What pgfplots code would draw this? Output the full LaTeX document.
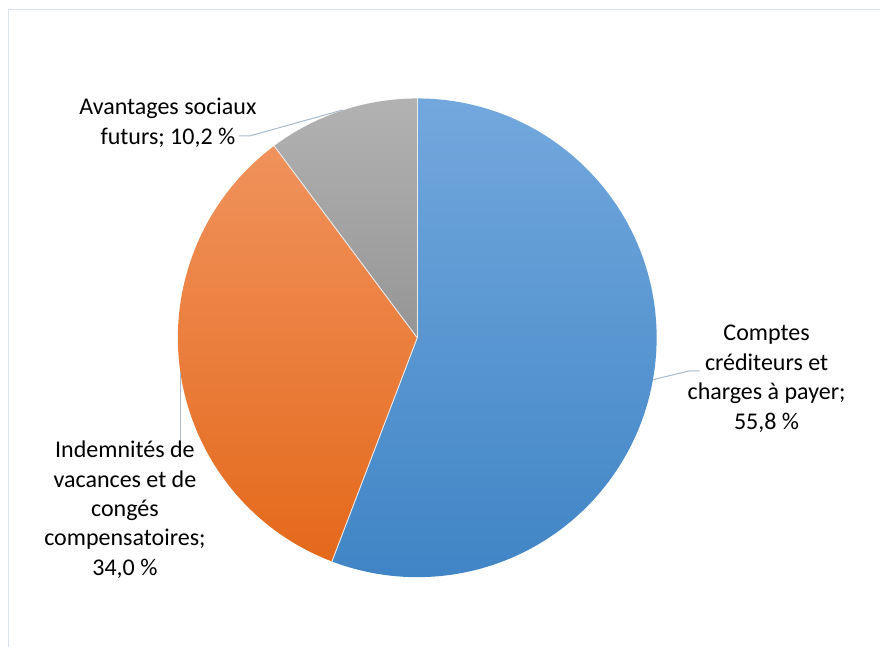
\documentclass[border=0pt]{standalone}
\usepackage{pgfplots}
\pgfplotsset{compat=1.18}
\usepackage{fontspec}
\setmainfont{Carlito}
\definecolor{blueT}{HTML}{72A8DD}
\definecolor{blueM}{HTML}{5B9BD5}
\definecolor{blueB}{HTML}{3F84C5}
\definecolor{orangeT}{HTML}{F0925C}
\definecolor{orangeM}{HTML}{F47E30}
\definecolor{orangeB}{HTML}{E4691B}
\definecolor{grayT}{HTML}{B2B2B2}
\definecolor{grayB}{HTML}{959595}
\definecolor{leader}{HTML}{A9B9CC}
\definecolor{frame}{HTML}{DCE2EA}
\begin{document}
\begin{tikzpicture}
\begin{axis}[
  width=880pt, height=647pt, scale only axis,
  xmin=0, xmax=880, ymin=0, ymax=647,
  hide axis, clip=false,
]
\path (axis cs:0,0) rectangle (axis cs:880,647);
% frame
\draw[frame, line width=1pt] (axis cs:9,0) -- (axis cs:9,637) -- (axis cs:880,637);
% pie values: 55.8, 34.0, 10.2 (clockwise from top)
\pgfmathsetmacro{\aA}{90}
\pgfmathsetmacro{\aB}{90-55.8*3.6}
\pgfmathsetmacro{\aC}{\aB-34.0*3.6}
\pgfmathsetmacro{\aD}{\aC-10.2*3.6}
\def\R{239.5pt}
\shade[top color=blueT, middle color=blueM, bottom color=blueB] (axis cs:417.5,309) -- ++(\aA:\R) arc[start angle=\aA, end angle=\aB, radius=\R] -- cycle;
\shade[top color=orangeT, middle color=orangeM, bottom color=orangeB] (axis cs:417.5,309) -- ++(\aB:\R) arc[start angle=\aB, end angle=\aC, radius=\R] -- cycle;
\shade[top color=grayT, bottom color=grayB] (axis cs:417.5,309) -- ++(\aC:\R) arc[start angle=\aC, end angle=\aD, radius=\R] -- cycle;
\draw[white!85!gray, line width=0.9pt] (axis cs:417.5,309) -- ++(\aA:\R);
\draw[white!85!gray, line width=0.9pt] (axis cs:417.5,309) -- ++(\aB:\R);
\draw[white!85!gray, line width=0.9pt] (axis cs:417.5,309) -- ++(\aC:\R);
% leader lines
\draw[leader, line width=1pt] (axis cs:239,511) -- (axis cs:250,511) -- (axis cs:343,537);
\draw[leader, line width=1pt] (axis cs:653,267) -- (axis cs:690,276) -- (axis cs:700,276);
\draw[leader, line width=1pt] (axis cs:181,275) -- (axis cs:181,207);
% labels
\node[align=center, font=\fontsize{24}{29.5}\selectfont, inner sep=0pt] at (axis cs:168,524) {Avantages sociaux\\futurs; 10,2 \%};
\node[align=center, font=\fontsize{24}{29.5}\selectfont, inner sep=0pt] at (axis cs:767,268) {Comptes\\créditeurs et\\charges à payer;\\55,8 \%};
\node[align=center, font=\fontsize{24}{29.5}\selectfont, inner sep=0pt] at (axis cs:125,137) {Indemnités de\\vacances et de\\congés\\compensatoires;\\34,0 \%};
\end{axis}
\end{tikzpicture}
\end{document}
